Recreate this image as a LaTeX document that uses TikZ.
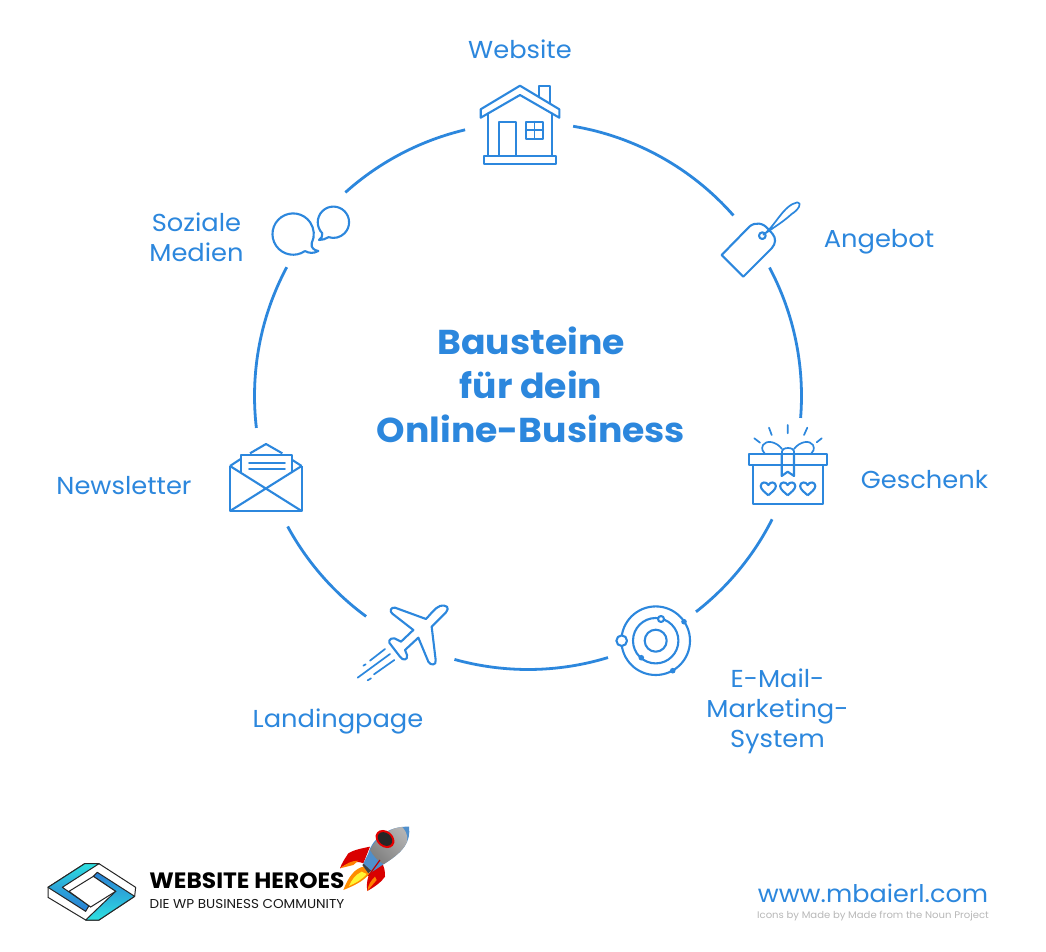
\documentclass[tikz,border=0pt]{standalone}
\usepackage{fontspec}
\setmainfont{Poppins}[FakeStretch=1.05]
\usetikzlibrary{calc}
\definecolor{brand}{HTML}{2C87DD}
\definecolor{logocyan}{HTML}{2EE0E0}
\definecolor{logoblue}{HTML}{2A7FD5}
\definecolor{rocketblue}{HTML}{4F8FCC}
\tikzset{
  ringline/.style={draw=brand,line width=2.8pt},
  icon/.style={draw=brand,line width=2.1pt,line join=round,fill=none},
  thinicon/.style={draw=brand,line width=1.7pt,line join=round,line cap=round,fill=none},
  lab/.style={anchor=base,inner sep=0pt,text=brand,font=\fontsize{24.5}{30}\selectfont,align=center},
  titlelab/.style={anchor=base,inner sep=0pt,text=brand,font=\fontsize{34.5}{44}\selectfont\bfseries},
  zm/.style 2 args={shift={(#1,#2)},scale=1/3},
  heartpic/.pic={\draw[icon] (0,6.8) .. controls (-3,4) and (-7.6,1) .. (-7.6,-2.5) .. controls (-7.6,-6.5) and (-2,-7.5) .. (0,-3.5) .. controls (2,-7.5) and (7.6,-6.5) .. (7.6,-2.5) .. controls (7.6,1) and (3,4) .. (0,6.8);},
}
\newcommand{\ringarc}[2]{\draw[ringline] ([shift={(#1:273.5)}]ring) arc[start angle=#1,end angle=#2,radius=273.5];}
\begin{document}
\begin{tikzpicture}[x=1pt,y=-1pt]
\useasboundingbox (0,0) rectangle (1046,952);
\fill[white] (0,0) rectangle (1046,952);
\coordinate (ring) at (528,396);
\ringarc{-80.5}{-41.3}
\ringarc{-28}{4.6}
\ringarc{26.8}{52.1}
\ringarc{73}{105.6}
\ringarc{126.3}{151.5}
\ringarc{173.3}{208.1}
\ringarc{228.1}{256.7}

% house
\draw[icon] (520,85.7) -- (559.3,109.3) -- (559.3,117.7) -- (520,95) -- (480.7,117.7) -- (480.7,109.3) -- cycle;
\draw[icon] (539.3,96.7) -- (539.3,85.7) -- (550,85.7) -- (550,103.3);
\draw[thinicon] (488.3,113.3) -- (488.3,156) (551.7,113.3) -- (551.7,156);
\draw[icon] (484.3,156) rectangle (555.7,164.3);
\draw[icon] (498.7,156) -- (498.7,121.7) -- (516.3,121.7) -- (516.3,156);
\draw[icon] (525.7,121.7) rectangle (543.3,139);
\draw[thinicon] (534.5,121.7) -- (534.5,139) (525.7,130.3) -- (543.3,130.3);

% tag
\begin{scope}[zm={700}{190}]
\draw[icon] (65,195) -- (130,260) -- (215,175) .. controls (228,160) and (228,145) .. (218,132) -- (205,118) .. controls (190,98) and (165,95) .. (148,110) -- cycle;
\draw[icon] (187,137) circle[radius=10];
\draw[thinicon] (190,134) .. controls (225,110) and (250,45) .. (292,37) .. controls (308,38) and (295,60) .. (275,72) .. controls (250,95) and (225,110) .. (190,134);
\end{scope}

% gift
\draw[icon] (749,454) rectangle (826.7,465);
\draw[icon] (753.3,465) -- (753.3,504) -- (822.7,504) -- (822.7,465);
\draw[icon] (781.7,454) -- (781.7,476) -- (787.7,471.7) -- (794,476) -- (794,454);
\draw[thinicon] (782,449) .. controls (776,441) and (766,440) .. (763,445) .. controls (761,449) and (763,452) .. (765,454);
\draw[thinicon] (794,449) .. controls (800,441) and (810,440) .. (813,445) .. controls (815,449) and (813,452) .. (811,454);
\draw[thinicon] (782,454) .. controls (781,449) and (785,448) .. (788,448) .. controls (791,448) and (795,449) .. (794,454);
\draw[thinicon] (754.3,438.3) -- (760,442.7) (769,427.7) -- (771.7,435) (787.7,425) -- (787.7,433.3) (807.3,427.7) -- (804,435) (821.7,438.3) -- (816.7,442.3);
\pic at (768.3,488.5) {heartpic};
\pic at (787.7,488.5) {heartpic};
\pic at (807.7,488.5) {heartpic};

% orbit
\draw[icon] (655.7,640.7) circle[radius=11];
\draw[icon] (655.7,640.7) circle[radius=22.7];
\draw[icon] (655.7,640.7) circle[radius=34.3];
\draw[icon,fill=white] (621.7,640.7) circle[radius=5.3];
\draw[icon,fill=white] (661,619) circle[radius=3];
\fill[brand] (684,621.7) circle[radius=2.8] (641.3,657.7) circle[radius=2.8] (672.7,670.7) circle[radius=2.8];

% plane
\begin{scope}[zm={345}{595}]
\draw[icon] (243,72) -- (150,38) .. controls (138,36) and (132,48) .. (142,56) -- (205,105) -- (168,140) -- (148,130) .. controls (132,128) and (128,142) .. (138,150) -- (165,185) .. controls (172,198) and (190,196) .. (186,180) -- (180,165) -- (220,128) -- (250,200) .. controls (256,212) and (275,212) .. (272,195) -- (260,95) -- (303,52) .. controls (315,38) and (305,28) .. (285,33) .. controls (270,38) and (255,60) .. (243,72) -- cycle;
\draw[thinicon] (120,162) -- (75,197) (62,208) -- (55,212) (135,177) -- (38,248) (148,195) -- (87,238) (78,250) -- (68,256);
\end{scope}

% envelope
\begin{scope}[zm={220}{435}]
\draw[icon] (30,93) -- (30,228) -- (245,228) -- (245,93);
\draw[icon] (30,93) -- (245,228) (245,93) -- (30,228);
\draw[icon] (30,93) -- (62,72) (90,55) -- (138,27) -- (187,55) (217,75) -- (245,93);
\draw[icon] (62,112) -- (62,60) -- (217,60) -- (217,112);
\draw[thinicon] (87,85) -- (195,85) (87,102) -- (195,102);
\end{scope}

% speech bubbles
\begin{scope}[zm={260}{195}]
\draw[icon] (135,168) arc[start angle=55,end angle=386,radius=62] .. controls (152,158) and (162,166) .. (175,168) .. controls (160,176) and (147,175) .. (135,168);
\draw[icon] (187,115) arc[start angle=135,end angle=468,radius=47] .. controls (197,132) and (187,135) .. (177,135) .. controls (184,130) and (188,124) .. (187,115);
\end{scope}

% labels
\node[lab] (website) at (520,59) {Website};
\node[lab] (angebot) at (879,247) {Angebot};
\node[lab] (geschenk) at (924.5,488) {Geschenk};
\node[lab] (email) at (777.5,747) {E-Mail-\\Marketing-\\System};
\node[lab] (landing) at (338,727) {Landingpage};
\node[lab] (news) at (124,494) {Newsletter};
\node[lab] (social) at (196.5,261) {Soziale\\Medien};
\node[titlelab] (t1) at (531,354) {Bausteine};
\node[titlelab] (t2) at (531,398) {für dein};
\node[titlelab] (t3) at (531,442) {Online-Business};

% logo
\begin{scope}[zm={44}{858}]
\draw[black!85,line width=1pt,line join=round,fill=white] (12,88) -- (122,17) -- (165,17) -- (275,88) -- (272,115) -- (165,186) -- (125,186) -- (12,118) -- cycle;
\draw[black!85,line width=1pt,line join=round,top color=logocyan,bottom color=logoblue,middle color=logoblue!60!logocyan] (12,88) -- (122,17) -- (165,17) -- (55,88) -- (135,143) -- (125,160) -- cycle;
\draw[black!85,line width=1pt,line join=round,top color=logoblue,bottom color=logocyan] (148,55) -- (160,43) -- (272,115) -- (165,186) -- (125,186) -- (215,100) -- cycle;
\draw[black!85,line width=1pt,fill=white] (75,100) -- (148,55) -- (215,100) -- (140,147) -- cycle;
\end{scope}
\node[anchor=base,inner sep=0pt,font=\fontsize{22.2}{24}\selectfont\bfseries,text=black] (wh) at (247,888.5) {WEBSITE HEROES};
\node[anchor=base,inner sep=0pt,font=\fontsize{12.9}{14}\selectfont,text=black!90] (whsub) at (247,908) {DIE WP BUSINESS COMMUNITY};

% rocket
\begin{scope}[zm={335}{820}]
\fill[red!85!black] (105,80) .. controls (80,85) and (55,90) .. (40,100) .. controls (30,115) and (20,130) .. (15,145) .. controls (35,130) and (65,120) .. (85,130) -- cycle;
\fill[orange] (15,145) .. controls (35,130) and (50,122) .. (70,122) -- (55,135) -- cycle;
\fill[red!85!black] (135,120) -- (100,170) .. controls (95,185) and (95,200) .. (97,213) .. controls (120,200) and (140,185) .. (150,170) .. controls (150,155) and (150,140) .. (135,120) -- cycle;
\fill[orange] (97,213) .. controls (100,195) and (105,185) .. (120,170) -- (125,180) -- cycle;
\fill[orange!90!yellow] (85,140) .. controls (60,145) and (40,170) .. (25,210) .. controls (50,200) and (85,185) .. (105,160) -- cycle;
\fill[yellow!80!white] (80,155) .. controls (60,165) and (50,180) .. (42,198) .. controls (60,190) and (80,180) .. (95,162) -- cycle;
\fill[black!75] (82,135) -- (100,160) -- (112,150) -- (92,125) -- cycle;
\begin{scope}
\path[clip] (222,20) .. controls (228,65) and (205,95) .. (150,130) -- (112,155) -- (85,130) -- (100,100) .. controls (112,55) and (160,18) .. (222,20) -- cycle;
\fill[rocketblue] (60,10) rectangle (240,170);
\shade[left color=black!30,middle color=white,right color=black!50,shading angle=-45] (105,90) .. controls (125,50) and (165,28) .. (198,18) .. controls (218,35) and (222,60) .. (210,80) .. controls (195,100) and (170,120) .. (150,135) .. controls (130,125) and (115,108) .. (105,90) -- cycle;
\end{scope}
\fill[red!90!black,rotate around={-40:(150,57)}] (150,57) ellipse[x radius=31,y radius=24];
\fill[black!85,rotate around={-40:(150,57)}] (150,57) ellipse[x radius=24,y radius=18];
\draw[red!75!black,line width=1.2pt] (135,120) -- (100,168);
\end{scope}

\node[anchor=base,inner sep=0pt,font=\fontsize{24.3}{30}\selectfont,text=brand] (url) at (873,902) {www.mbaierl.com};
\node[anchor=base,inner sep=0pt,font=\fontsize{9.6}{12}\selectfont,text=black!28] (credit) at (873,918) {Icons by Made by Made from the Noun Project};
\end{tikzpicture}
\end{document}
